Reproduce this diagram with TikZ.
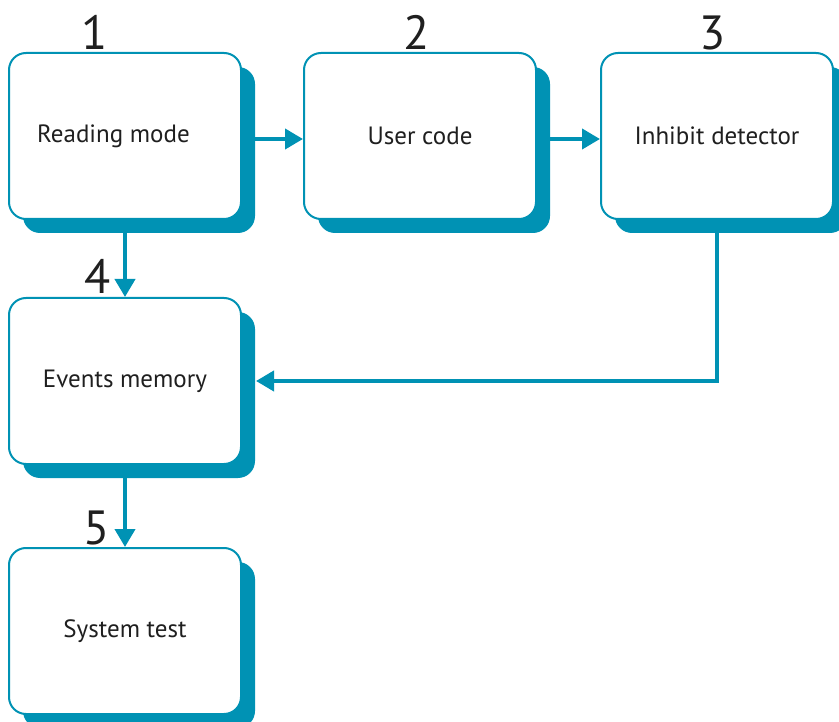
\documentclass[tikz,border=0pt]{standalone}
\usepackage{fontspec}
\setmainfont{PT Sans}
\usetikzlibrary{arrows.meta,shadows}
\definecolor{flowteal}{RGB}{0,146,180}

\begin{document}
\begin{tikzpicture}[x=1pt,y=-1pt,>={Triangle[length=18pt,width=20pt]},
  stage/.style={draw=flowteal,line width=2pt,fill=white,rounded corners=17pt,
    minimum width=232pt,minimum height=166pt,text=black!88,
    font=\fontsize{25}{30}\selectfont,
    drop shadow={shadow xshift=14pt,shadow yshift=-14pt,fill=flowteal,opacity=1}},
  numlabel/.style={anchor=base,inner sep=0pt,text=black!88,font=\fontsize{48}{50}\selectfont},
  flowarrow/.style={->,flowteal,line width=4pt}]
  \useasboundingbox (0,0) rectangle (839,722);
  % the five stages
  \node[stage] (read) at (125,136) {\hspace*{-23pt}Reading mode};
  \node[stage] (user) at (420,136) {User code};
  \node[stage] (inhib) at (717,136) {Inhibit detector};
  \node[stage] (events) at (125,381) {Events memory};
  \node[stage] (systest) at (125,631) {System test};
  % step numbers
  \node[numlabel] (n1) at ([xshift=-30pt,yshift=2pt]read.north) {1};
  \node[numlabel] (n2) at ([xshift=-3pt,yshift=2pt]user.north) {2};
  \node[numlabel] (n3) at ([xshift=-4pt,yshift=2pt]inhib.north) {3};
  \node[numlabel] (n4) at ([xshift=-27pt,yshift=3pt]events.north) {4};
  \node[numlabel] (n5) at ([xshift=-28pt,yshift=3pt]systest.north) {5};
  % connectors
  \draw[flowarrow] (read.east |- 0,139) -- (user.west |- 0,139);
  \draw[flowarrow] (user.east |- 0,139) -- (inhib.west |- 0,139);
  \draw[flowarrow] (read.south) -- (events.north);
  \draw[flowarrow] (inhib.south) |- ([xshift=14pt]events.east);
  \draw[flowarrow] (events.south) -- (systest.north);
\end{tikzpicture}
\end{document}
